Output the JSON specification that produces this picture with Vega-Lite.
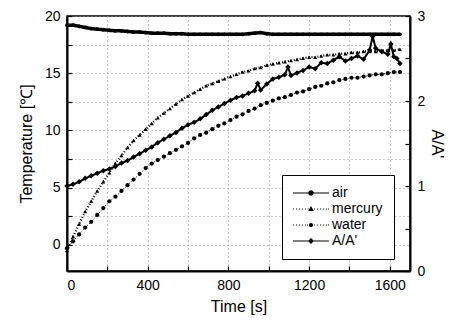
{
  "$schema": "https://vega.github.io/schema/vega-lite/v6.json",
  "width": 343,
  "height": 255,
  "autosize": {"type": "none"},
  "padding": {"left": 67, "top": 16, "right": 46, "bottom": 49},
  "background": "white",
  "config": {
    "font": "Liberation Sans",
    "view": {"stroke": "black", "strokeWidth": 1.5},
    "axis": {
      "labelFont": "Liberation Sans", "labelFontSize": 14, "labelColor": "black",
      "titleFont": "Liberation Sans", "titleFontSize": 16, "titleFontWeight": "normal", "titleColor": "black",
      "domainColor": "black", "domainWidth": 2, "tickColor": "black", "tickWidth": 1.2,
      "tickSize": -5, "labelPadding": 12,
      "gridColor": "#999", "gridDash": [1, 3], "gridWidth": 1
    }
  },
  "datasets": {
    "temp": [
      {"t":0,"air":19.2,"mercury":-0.5,"water":-0.3},
      {"t":30,"air":19.2,"mercury":0.7,"water":0.3},
      {"t":60,"air":19.1,"mercury":1.8,"water":0.9},
      {"t":90,"air":19.0,"mercury":2.9,"water":1.5},
      {"t":120,"air":18.9,"mercury":3.8,"water":2.0},
      {"t":150,"air":18.85,"mercury":4.7,"water":2.6},
      {"t":180,"air":18.8,"mercury":5.5,"water":3.2},
      {"t":210,"air":18.75,"mercury":6.3,"water":3.8},
      {"t":240,"air":18.7,"mercury":7.1,"water":4.2},
      {"t":270,"air":18.7,"mercury":7.8,"water":4.7},
      {"t":300,"air":18.65,"mercury":8.5,"water":5.2},
      {"t":330,"air":18.6,"mercury":9.1,"water":5.7},
      {"t":360,"air":18.6,"mercury":9.6,"water":6.2},
      {"t":390,"air":18.55,"mercury":10.1,"water":6.7},
      {"t":420,"air":18.5,"mercury":10.6,"water":7.1},
      {"t":450,"air":18.5,"mercury":11.1,"water":7.4},
      {"t":480,"air":18.5,"mercury":11.5,"water":7.7},
      {"t":510,"air":18.45,"mercury":11.9,"water":8.0},
      {"t":540,"air":18.45,"mercury":12.3,"water":8.3},
      {"t":570,"air":18.45,"mercury":12.7,"water":8.6},
      {"t":600,"air":18.4,"mercury":13.0,"water":8.9},
      {"t":630,"air":18.4,"mercury":13.3,"water":9.3},
      {"t":660,"air":18.4,"mercury":13.6,"water":9.6},
      {"t":690,"air":18.4,"mercury":13.9,"water":9.8},
      {"t":720,"air":18.4,"mercury":14.1,"water":10.1},
      {"t":750,"air":18.4,"mercury":14.3,"water":10.4},
      {"t":780,"air":18.4,"mercury":14.5,"water":10.6},
      {"t":810,"air":18.4,"mercury":14.7,"water":10.9},
      {"t":840,"air":18.4,"mercury":14.9,"water":11.2},
      {"t":870,"air":18.4,"mercury":15.1,"water":11.4},
      {"t":900,"air":18.45,"mercury":15.2,"water":11.7},
      {"t":930,"air":18.5,"mercury":15.4,"water":11.9},
      {"t":960,"air":18.55,"mercury":15.5,"water":12.2},
      {"t":990,"air":18.45,"mercury":15.7,"water":12.4},
      {"t":1020,"air":18.4,"mercury":15.8,"water":12.6},
      {"t":1050,"air":18.4,"mercury":15.9,"water":12.8},
      {"t":1080,"air":18.4,"mercury":16.0,"water":12.9},
      {"t":1110,"air":18.4,"mercury":16.1,"water":13.1},
      {"t":1140,"air":18.4,"mercury":16.2,"water":13.3},
      {"t":1170,"air":18.4,"mercury":16.3,"water":13.4},
      {"t":1200,"air":18.4,"mercury":16.4,"water":13.6},
      {"t":1230,"air":18.4,"mercury":16.4,"water":13.8},
      {"t":1260,"air":18.4,"mercury":16.5,"water":13.9},
      {"t":1290,"air":18.4,"mercury":16.6,"water":14.1},
      {"t":1320,"air":18.4,"mercury":16.6,"water":14.2},
      {"t":1350,"air":18.4,"mercury":16.7,"water":14.4},
      {"t":1380,"air":18.4,"mercury":16.7,"water":14.5},
      {"t":1410,"air":18.4,"mercury":16.8,"water":14.6},
      {"t":1440,"air":18.4,"mercury":16.8,"water":14.6},
      {"t":1470,"air":18.4,"mercury":16.9,"water":14.7},
      {"t":1500,"air":18.4,"mercury":16.9,"water":14.8},
      {"t":1530,"air":18.4,"mercury":16.9,"water":14.9},
      {"t":1560,"air":18.4,"mercury":17.0,"water":14.9},
      {"t":1590,"air":18.4,"mercury":17.0,"water":15.0},
      {"t":1620,"air":18.4,"mercury":17.0,"water":15.1},
      {"t":1650,"air":18.4,"mercury":17.1,"water":15.1}
    ],
    "ratio": [
      {"t":0,"r":1.0,"series":"A/A'"},
      {"t":30,"r":1.02,"series":"A/A'"},
      {"t":60,"r":1.05,"series":"A/A'"},
      {"t":90,"r":1.09,"series":"A/A'"},
      {"t":120,"r":1.12,"series":"A/A'"},
      {"t":150,"r":1.15,"series":"A/A'"},
      {"t":180,"r":1.18,"series":"A/A'"},
      {"t":210,"r":1.2,"series":"A/A'"},
      {"t":240,"r":1.23,"series":"A/A'"},
      {"t":270,"r":1.27,"series":"A/A'"},
      {"t":300,"r":1.3,"series":"A/A'"},
      {"t":330,"r":1.34,"series":"A/A'"},
      {"t":360,"r":1.38,"series":"A/A'"},
      {"t":390,"r":1.42,"series":"A/A'"},
      {"t":420,"r":1.46,"series":"A/A'"},
      {"t":450,"r":1.51,"series":"A/A'"},
      {"t":480,"r":1.55,"series":"A/A'"},
      {"t":510,"r":1.59,"series":"A/A'"},
      {"t":540,"r":1.63,"series":"A/A'"},
      {"t":570,"r":1.68,"series":"A/A'"},
      {"t":600,"r":1.72,"series":"A/A'"},
      {"t":630,"r":1.75,"series":"A/A'"},
      {"t":660,"r":1.79,"series":"A/A'"},
      {"t":690,"r":1.84,"series":"A/A'"},
      {"t":720,"r":1.89,"series":"A/A'"},
      {"t":750,"r":1.93,"series":"A/A'"},
      {"t":780,"r":1.97,"series":"A/A'"},
      {"t":810,"r":2.01,"series":"A/A'"},
      {"t":840,"r":2.04,"series":"A/A'"},
      {"t":870,"r":2.06,"series":"A/A'"},
      {"t":900,"r":2.09,"series":"A/A'"},
      {"t":930,"r":2.12,"series":"A/A'"},
      {"t":945,"r":2.21,"series":"A/A'"},
      {"t":960,"r":2.13,"series":"A/A'"},
      {"t":990,"r":2.2,"series":"A/A'"},
      {"t":1020,"r":2.26,"series":"A/A'"},
      {"t":1050,"r":2.28,"series":"A/A'"},
      {"t":1080,"r":2.31,"series":"A/A'"},
      {"t":1095,"r":2.4,"series":"A/A'"},
      {"t":1110,"r":2.3,"series":"A/A'"},
      {"t":1140,"r":2.33,"series":"A/A'"},
      {"t":1170,"r":2.36,"series":"A/A'"},
      {"t":1200,"r":2.4,"series":"A/A'"},
      {"t":1230,"r":2.38,"series":"A/A'"},
      {"t":1260,"r":2.45,"series":"A/A'"},
      {"t":1290,"r":2.44,"series":"A/A'"},
      {"t":1320,"r":2.48,"series":"A/A'"},
      {"t":1350,"r":2.52,"series":"A/A'"},
      {"t":1380,"r":2.47,"series":"A/A'"},
      {"t":1410,"r":2.5,"series":"A/A'"},
      {"t":1440,"r":2.53,"series":"A/A'"},
      {"t":1470,"r":2.49,"series":"A/A'"},
      {"t":1500,"r":2.6,"series":"A/A'"},
      {"t":1515,"r":2.76,"series":"A/A'"},
      {"t":1530,"r":2.62,"series":"A/A'"},
      {"t":1560,"r":2.58,"series":"A/A'"},
      {"t":1590,"r":2.55,"series":"A/A'"},
      {"t":1605,"r":2.67,"series":"A/A'"},
      {"t":1620,"r":2.52,"series":"A/A'"},
      {"t":1635,"r":2.5,"series":"A/A'"},
      {"t":1650,"r":2.44,"series":"A/A'"}
    ]
  },
  "layer": [
    {
      "data": {"name": "temp"},
      "transform": [{"fold": ["air", "mercury", "water"], "as": ["series", "value"]}],
      "encoding": {
        "x": {"field": "t", "type": "quantitative", "scale": {"domain": [0, 1700], "nice": false},
          "axis": {"title": "Time [s]", "values": [0,200,400,600,800,1000,1200,1400,1600], "format": "d",
            "labelExpr": "datum.value % 400 === 0 ? datum.label : ''", "grid": true, "titlePadding": 6}},
        "y": {"field": "value", "type": "quantitative", "scale": {"domain": [-2.3, 20], "nice": false, "zero": false},
          "axis": {"title": "Temperature [℃]", "orient": "left", "values": [0,2.5,5,7.5,10,12.5,15,17.5,20],
            "labelExpr": "datum.value % 5 === 0 ? datum.label : ''", "grid": true, "titlePadding": 10}}
      },
      "layer": [
        {
          "mark": {"type": "line", "color": "black"},
          "encoding": {
            "detail": {"field": "series"},
            "strokeWidth": {"field": "series", "type": "nominal", "scale": {"domain": ["air","mercury","water"], "range": [3.5, 1, 1]}, "legend": null},
            "strokeDash": {"field": "series", "type": "nominal", "scale": {"domain": ["air","mercury","water"], "range": [[1,0],[1,2],[1,2]]}, "legend": null}
          }
        },
        {
          "mark": {"type": "point", "filled": true, "color": "black", "opacity": 1},
          "encoding": {
            "shape": {"field": "series", "type": "nominal",
              "scale": {"domain": ["air","mercury","water"], "range": ["circle","triangle-up","circle"]},
              "legend": null},
            "size": {"field": "series", "type": "nominal", "scale": {"domain": ["air","mercury","water"], "range": [14, 18, 9]}, "legend": null}
          }
        }
      ]
    },
    {
      "data": {"name": "ratio"},
      "encoding": {
        "x": {"field": "t", "type": "quantitative"},
        "y": {"field": "r", "type": "quantitative", "scale": {"domain": [0, 3], "nice": false},
          "axis": {"title": "A/A'", "orient": "right", "values": [0,0.5,1,1.5,2,2.5,3],
            "labelExpr": "datum.value % 1 === 0 ? format(datum.value, 'd') : ''", "grid": false, "titlePadding": 4}}
      },
      "layer": [
        {"mark": {"type": "line", "color": "black", "strokeWidth": 2}, "encoding": {}},
        {"mark": {"type": "point", "filled": true, "color": "black", "opacity": 1, "size": 30, "shape": "diamond"}, "encoding": {}}
      ]
    },
    {
      "data": {"name": "ratio"},
      "mark": {"type": "point", "filled": true, "color": "black", "opacity": 0},
      "encoding": {
        "x": {"field": "t", "type": "quantitative"},
        "y": {"field": "r", "type": "quantitative", "scale": {"domain": [0, 3], "nice": false}, "axis": null},
        "shape": {"field": "series", "type": "nominal",
          "scale": {"domain": ["air","mercury","water","A/A'"],
            "range": [
              "M-1,-0.07H4.14V0.07H-1ZM1.96,0A0.39,0.39,0,1,1,1.18,0A0.39,0.39,0,1,1,1.96,0Z",
              "M-1,-0.07h0.14v0.14h-0.14ZM-0.57,-0.07h0.14v0.14h-0.14ZM-0.14,-0.07h0.14v0.14h-0.14ZM0.29,-0.07h0.14v0.14h-0.14ZM0.72,-0.07h0.14v0.14h-0.14ZM2.44,-0.07h0.14v0.14h-0.14ZM2.87,-0.07h0.14v0.14h-0.14ZM3.3,-0.07h0.14v0.14h-0.14ZM3.73,-0.07h0.14v0.14h-0.14ZM4.0,-0.07h0.14v0.14h-0.14ZM1.57,-0.43L1.97,0.3L1.17,0.3ZM1.1,-0.07h0.14v0.14h-0.14ZM2.0,-0.07h0.14v0.14h-0.14Z",
              "M-1,-0.07h0.14v0.14h-0.14ZM-0.57,-0.07h0.14v0.14h-0.14ZM-0.14,-0.07h0.14v0.14h-0.14ZM0.29,-0.07h0.14v0.14h-0.14ZM0.72,-0.07h0.14v0.14h-0.14ZM2.44,-0.07h0.14v0.14h-0.14ZM2.87,-0.07h0.14v0.14h-0.14ZM3.3,-0.07h0.14v0.14h-0.14ZM3.73,-0.07h0.14v0.14h-0.14ZM4.0,-0.07h0.14v0.14h-0.14ZM1.87,0A0.3,0.3,0,1,1,1.27,0A0.3,0.3,0,1,1,1.87,0ZM1.0,-0.07h0.14v0.14h-0.14ZM2.0,-0.07h0.14v0.14h-0.14Z",
              "M-1,-0.07H4.14V0.07H-1ZM1.57,-0.43L2.0,0L1.57,0.43L1.14,0Z"
            ]},
          "legend": {
            "title": null, "orient": "none", "legendX": 215, "legendY": 159,
            "strokeColor": "black", "fillColor": "white", "padding": 11,
            "symbolSize": 196, "symbolOpacity": 1, "symbolFillColor": "black", "symbolStrokeColor": "black", "symbolStrokeWidth": 0,
            "labelFontSize": 14, "labelFont": "Liberation Sans", "labelColor": "black",
            "labelOffset": 25, "rowPadding": 2
          }
        }
      }
    }
  ],
  "resolve": {"scale": {"y": "independent", "shape": "independent"}}
}
